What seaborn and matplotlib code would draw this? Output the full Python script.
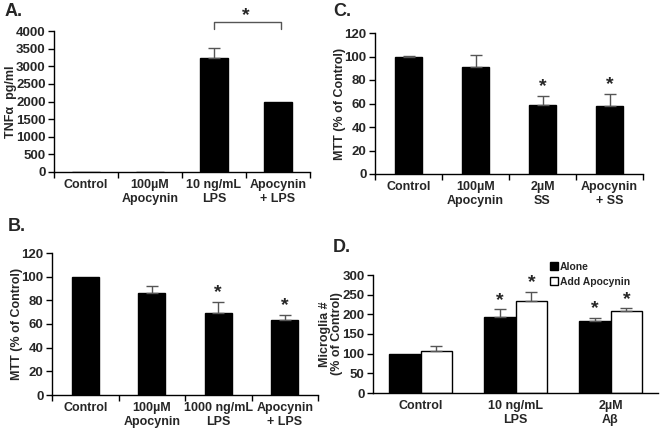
import matplotlib
matplotlib.use("Agg")
import matplotlib.pyplot as plt
import seaborn as sns
import pandas as pd
from matplotlib.patches import Patch

# ---- data ----
a_labels = ["Control", "100µM\nApocynin", "10 ng/mL\nLPS", "Apocynin\n+ LPS"]
a_values = [0, 0, 3220, 2000]
a_errors = [0, 0, 310, 0]

b_labels = ["Control", "100µM\nApocynin", "1000 ng/mL\nLPS", "Apocynin\n+ LPS"]
b_values = [100, 86.5, 69, 63.5]
b_errors = [0, 6, 9.5, 4]
b_stars = [False, False, True, True]

c_labels = ["Control", "100µM\nApocynin", "2µM\nSS", "Apocynin\n+ SS"]
c_values = [100, 91, 59, 58]
c_errors = [0.5, 10, 7.5, 10]
c_stars = [False, False, True, True]

d_labels = ["Control", "10 ng/mL\nLPS", "2µM\nAβ"]
d_groups = ["Alone", "Add Apocynin"]
d_alone = [100, 194, 184]
d_alone_err = [0, 19, 7]
d_apo = [107, 234, 208]
d_apo_err = [13, 23, 7]
d_stars_alone = [False, True, True]
d_stars_apo = [False, True, True]

sns.set_style("ticks")
plt.rcParams["font.family"] = ["Liberation Sans", "DejaVu Sans"]
plt.rcParams["font.weight"] = "bold"
FSX = 9
FSY = 9.5
FSL = 9
ERRC = "#555555"

fig = plt.figure(figsize=(6.61, 4.29), dpi=100)
W, H = 661, 429


def axes_px(left, top, right, bottom):
    return fig.add_axes([left / W, 1 - bottom / H, (right - left) / W, (bottom - top) / H])


def style_axes(ax, n, ymax, ystep, boundary_ticks=True):
    ax.set_xlim(-0.5, n - 0.5)
    ax.set_ylim(0, ymax)
    ax.set_yticks(range(0, ymax + 1, ystep))
    for s in ["top", "right"]:
        ax.spines[s].set_visible(False)
    for s in ["left", "bottom"]:
        ax.spines[s].set_color("black")
        ax.spines[s].set_linewidth(1.0)
    ax.tick_params(axis="x", which="major", length=0, pad=5, labelsize=FSX)
    ax.tick_params(axis="y", length=4, width=1, pad=2, labelsize=FSY, color="black")
    if boundary_ticks:
        ax.set_xticks([i - 0.5 for i in range(n + 1)], minor=True)
        ax.tick_params(axis="x", which="minor", length=4, width=1, color="black")
    for t in ax.get_xticklabels() + ax.get_yticklabels():
        t.set_fontweight("bold")
    ax.set_xlabel("")


def simple_panel(ax, labels, values, errors, width):
    df = pd.DataFrame({"cond": labels, "val": values})
    sns.barplot(data=df, x="cond", y="val", color="black", edgecolor="black",
                width=width, saturation=1, errorbar=None, ax=ax)
    for i, (v, e) in enumerate(zip(values, errors)):
        if e > 0:
            ax.errorbar(i, v, yerr=[[0], [e]], fmt="none", ecolor=ERRC,
                        elinewidth=1, capsize=4, capthick=1)


# ---- A ----
axA = axes_px(54, 31, 310, 172)
simple_panel(axA, a_labels, a_values, a_errors, 0.44)
style_axes(axA, 4, 4000, 500)
axA.set_ylabel("TNFα  pg/ml", fontsize=FSL, fontweight="bold")
axA.yaxis.set_label_coords(-0.145, 0.5)
axA.plot([2, 2, 3.05, 3.05], [4057, 4255, 4255, 4057], color=ERRC, lw=1, clip_on=False)
axA.text(2.5, 4200, "*", ha="center", va="bottom", fontsize=14, fontweight="bold", clip_on=False)

# ---- B ----
axB = axes_px(52, 253, 318, 395)
simple_panel(axB, b_labels, b_values, b_errors, 0.4)
style_axes(axB, 4, 120, 20)
axB.set_ylabel("MTT (% of Control)", fontsize=FSL, fontweight="bold")
axB.yaxis.set_label_coords(-0.11, 0.5)
for i, s in enumerate(b_stars):
    if s:
        axB.text(i, b_values[i] + b_errors[i] + 1, "*", ha="center", va="bottom",
                 fontsize=14, fontweight="bold")

# ---- C ----
axC = axes_px(375, 33, 643, 174)
simple_panel(axC, c_labels, c_values, c_errors, 0.4)
style_axes(axC, 4, 120, 20)
axC.set_ylabel("MTT (% of Control)", fontsize=FSL, fontweight="bold")
axC.yaxis.set_label_coords(-0.108, 0.5)
for i, s in enumerate(c_stars):
    if s:
        axC.text(i, c_values[i] + c_errors[i] + 1, "*", ha="center", va="bottom",
                 fontsize=14, fontweight="bold")

# ---- D ----
axD = axes_px(373, 275, 658, 393)
dfD = pd.DataFrame({
    "cond": d_labels * 2,
    "group": [d_groups[0]] * 3 + [d_groups[1]] * 3,
    "val": d_alone + d_apo,
})
sns.barplot(data=dfD, x="cond", y="val", hue="group", palette=["black", "white"],
            edgecolor="black", linewidth=1, width=0.67, gap=0, saturation=1,
            errorbar=None, legend=False, ax=axD)
style_axes(axD, 3, 300, 50, boundary_ticks=False)
axD.set_ylabel("Microglia #\n(% of Control)", fontsize=FSL, fontweight="bold", linespacing=1.05)
axD.yaxis.set_label_coords(-0.105, 0.5)
bw = 0.67 / 2
for vals, errs, stars, off in [(d_alone, d_alone_err, d_stars_alone, -bw / 2),
                               (d_apo, d_apo_err, d_stars_apo, bw / 2)]:
    for i, (v, e, s) in enumerate(zip(vals, errs, stars)):
        if e > 0:
            axD.errorbar(i + off, v, yerr=[[0], [e]], fmt="none", ecolor=ERRC,
                         elinewidth=1, capsize=4, capthick=1)
        if s:
            axD.text(i + off, v + e + 1, "*", ha="center", va="bottom",
                     fontsize=14, fontweight="bold")
handles = [Patch(facecolor="black", edgecolor="black"),
           Patch(facecolor="white", edgecolor="black")]
leg = axD.legend(handles, d_groups, loc="upper left", bbox_to_anchor=(0.62, 1.11),
                 frameon=False, fontsize=7.5, handlelength=0.8, handleheight=0.8,
                 handletextpad=0.2, labelspacing=0.45, borderpad=0, borderaxespad=0)
for t in leg.get_texts():
    t.set_fontweight("bold")

# ---- panel letters ----
for x, y, lab in [(5, 12, "A."), (333, 12, "C."), (8, 227, "B."), (333, 248, "D.")]:
    fig.text(x / W, 1 - y / H, lab, fontsize=13, fontweight="bold", va="center", ha="left")

fig.savefig("out.png", dpi=100)
